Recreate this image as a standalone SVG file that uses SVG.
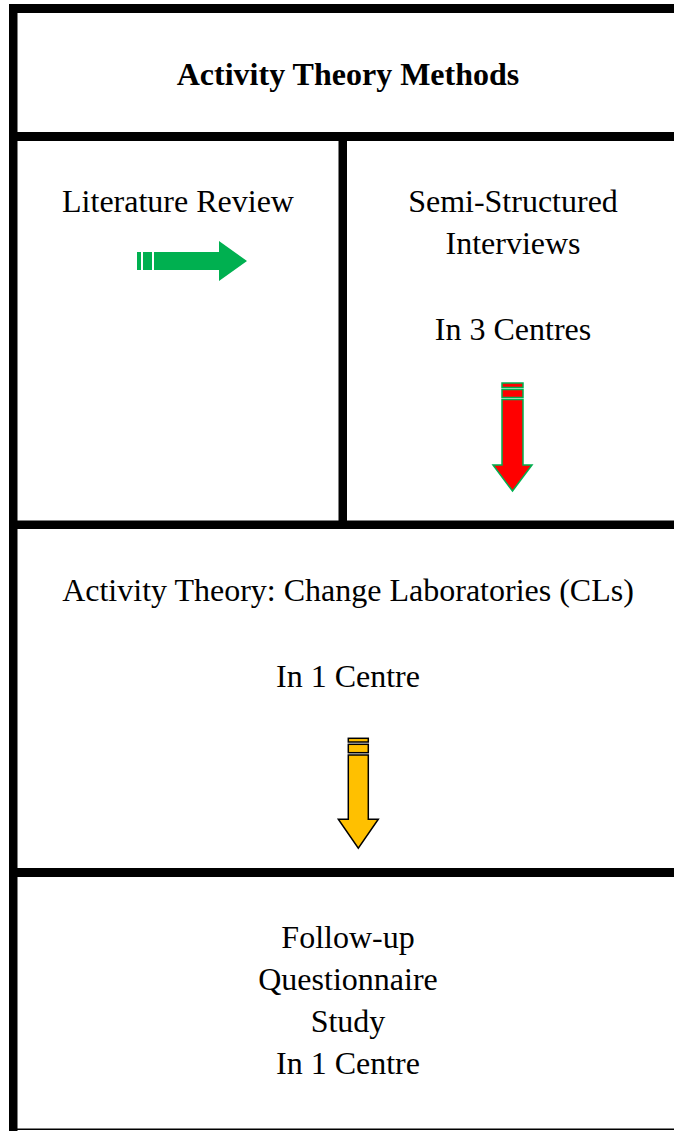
<svg xmlns="http://www.w3.org/2000/svg" width="674" height="1131" viewBox="0 0 674 1131">
<style>
.t{font-family:"Liberation Serif","Times New Roman",serif;font-size:32px;fill:#000;text-anchor:middle}
.b{font-weight:bold}
.ln{fill:#000}
</style>
<rect width="674" height="1131" fill="#fff"/>
<g id="frame">
<rect class="ln" x="9" y="4" width="665" height="9"/>
<rect class="ln" x="9" y="4" width="8.5" height="1127"/>
<rect class="ln" x="9" y="132" width="665" height="9"/>
<rect class="ln" x="338.5" y="132" width="8.5" height="397"/>
<rect class="ln" x="9" y="520.5" width="665" height="8.5"/>
<rect class="ln" x="9" y="868" width="665" height="9"/>
<rect class="ln" x="9" y="1128.5" width="665" height="1.5"/>
</g>
<g id="title"><text class="t b" x="348" y="85">Activity Theory Methods</text></g>
<g id="literature"><text class="t" x="178" y="212">Literature Review</text></g>
<g id="interviews">
<text class="t" x="513" y="212">Semi-Structured</text>
<text class="t" x="513" y="254">Interviews</text>
<text class="t" x="513" y="340">In 3 Centres</text>
</g>
<g id="changelab">
<text class="t" x="348" y="601">Activity Theory: Change Laboratories (CLs)</text>
<text class="t" x="348" y="687">In 1 Centre</text>
</g>
<g id="followup">
<text class="t" x="348" y="948">Follow-up</text>
<text class="t" x="348" y="990">Questionnaire</text>
<text class="t" x="348" y="1032">Study</text>
<text class="t" x="348" y="1074">In 1 Centre</text>
</g>
<g id="connectors">
<g fill="#00B050">
<rect x="137" y="252" width="4" height="18"/>
<rect x="143" y="252" width="9" height="18"/>
<polygon points="154,252 219,252 219,241 247,261 219,281 219,270 154,270"/>
</g>
<g fill="#FF0000" stroke="#00B050" stroke-width="1.5">
<rect x="502" y="383" width="21" height="4.5"/>
<rect x="502" y="389.5" width="21" height="8"/>
<polygon points="502,399.5 523,399.5 523,465 532,465 512.5,491 493,465 502,465"/>
</g>
<g fill="#FFC000" stroke="#000" stroke-width="1.5">
<rect x="348.3" y="738.3" width="20" height="3.7"/>
<rect x="348.3" y="744.3" width="20" height="8.4"/>
<polygon points="348.3,755 368.3,755 368.3,819.3 378.3,819.3 358.3,848.3 338.3,819.3 348.3,819.3"/>
</g>
</g>
</svg>
